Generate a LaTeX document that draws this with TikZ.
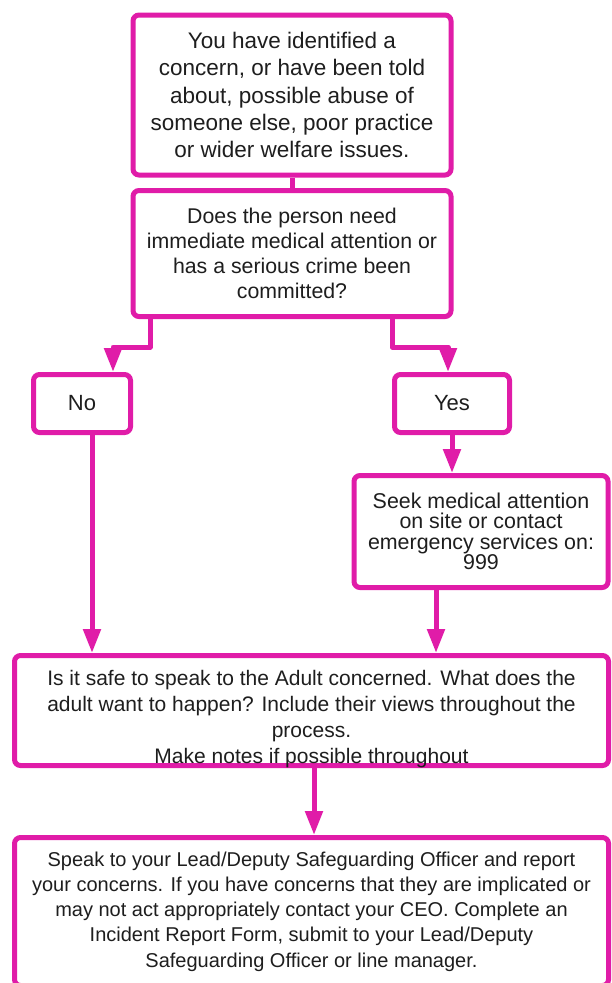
\documentclass[tikz,border=0pt]{standalone}
\usepackage{fontspec}
\setmainfont{Liberation Sans}
\usetikzlibrary{arrows.meta}
\definecolor{mag}{RGB}{224,28,168}
\definecolor{txt}{RGB}{30,30,30}
\begin{document}
\begin{tikzpicture}[x=1pt,y=-1pt,
  box/.style={draw=mag,line width=5pt,rounded corners=6pt,fill=white,align=center,text=txt,inner sep=0pt},
  conn/.style={draw=mag,line width=5pt,line join=round},
  arr/.style={conn,-{Triangle[width=17pt,length=24pt]}},
  fone/.style={font=\fontsize{22.5}{27.25}\selectfont},
  ftwo/.style={font=\fontsize{21.3}{25}\selectfont},
  fbig/.style={font=\fontsize{22}{27}\selectfont},
  fseek/.style={font=\fontsize{21.4}{20.5}\selectfont},
  fis/.style={font=\fontsize{21}{26}\selectfont},
  ffin/.style={font=\fontsize{20}{25.3}\selectfont}
]
\useasboundingbox (0,0) rectangle (611,983);
\node[box,fone,minimum width=318pt,minimum height=160pt] (b1) at (292,95)
  {You have identified a\\concern, or have been told\\about, possible abuse of\\someone else, poor practice\\or wider welfare issues.};
\node[box,ftwo,minimum width=318pt,minimum height=126pt] (b2) at (292,253.5)
  {Does the person need\\immediate medical attention or\\has a serious crime been\\committed?};
\node[box,fbig,minimum width=97pt,minimum height=58pt] (no) at (82,403.5) {No};
\node[box,fbig,minimum width=115pt,minimum height=58pt] (yes) at (452,403.5) {Yes};
\node[box,fseek,minimum width=254pt,minimum height=112pt] (seek) at (481,531.5)
  {Seek medical attention\\on site or contact\\emergency services on:\\999};
\node[box,fis,minimum width=594pt,minimum height=110pt] (is) at (311.5,710.5)
  {\rule{0pt}{27pt}Is it safe to speak to the Adult concerned. What does the\\adult want to happen? Include their views throughout the\\process.\\\raisebox{0pt}[\height][0pt]{Make notes if possible throughout}};
\node[box,ffin,minimum width=594pt,minimum height=148pt] (fin) at (311.5,911.5)
  {Speak to your Lead/Deputy Safeguarding Officer and report\\your concerns. If you have concerns that they are implicated or\\may not act appropriately contact your CEO. Complete an\\Incident Report Form, submit to your Lead/Deputy\\Safeguarding Officer or line manager.};
\coordinate (nA) at (150,347);
\coordinate (nB) at (113,347);
\coordinate (yA) at (392,347);
\coordinate (yB) at (448,347);
\coordinate (yC) at (452,0);
\coordinate (nC) at (92,0);
\coordinate (sC) at (436,0);
\coordinate (iC) at (314,0);
\draw[conn] (b1.south) -- (b2.north);
\draw[arr] (b2.south -| nA) -- (nA) -- (nB) -- (no.north -| nB);
\draw[arr] (b2.south -| yA) -- (yA) -- (yB) -- (yes.north -| yB);
\draw[arr] (yes.south -| yC) -- (seek.north -| yC);
\draw[arr] (no.south -| nC) -- (is.north -| nC);
\draw[arr] (seek.south -| sC) -- (is.north -| sC);
\draw[arr] (is.south -| iC) -- (fin.north -| iC);
\end{tikzpicture}
\end{document}
